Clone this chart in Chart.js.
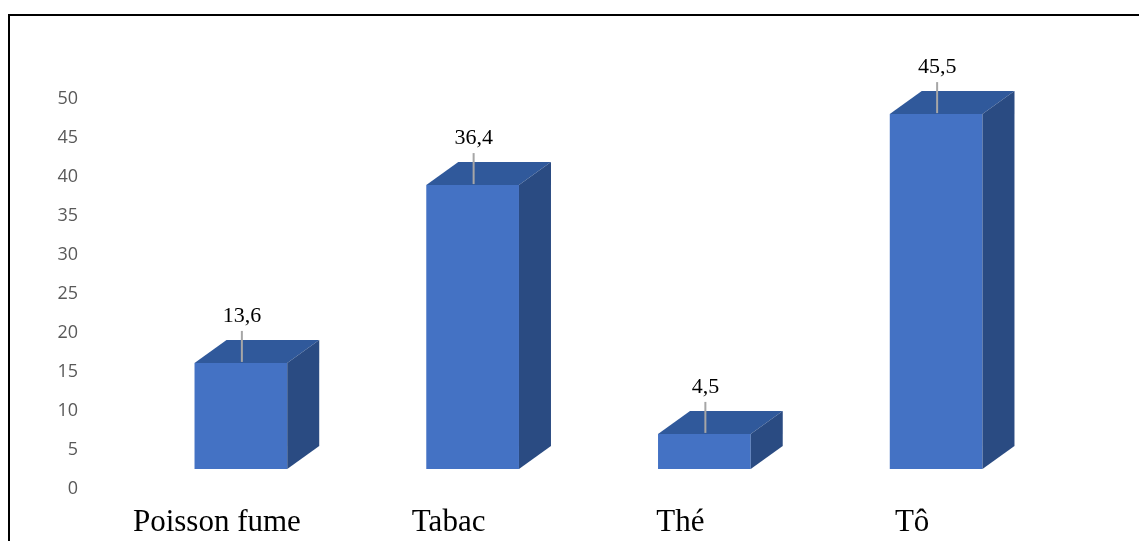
<!DOCTYPE html>
<html>
<head>
<meta charset="utf-8">
<script src="https://cdn.jsdelivr.net/npm/chart.js@4/dist/chart.umd.min.js"></script>
<style>
    html, body {
        margin: 0;
        padding: 0;
        background: #ffffff;
        overflow: hidden;
    }
    #wrap {
        position: relative;
        width: 1139px;
        height: 541px;
    }
    #frame {
        position: absolute;
        left: 8px;
        top: 14px;
        width: 1200px;
        height: 600px;
        border-left: 2px solid #000;
        border-top: 2px solid #000;
    }
    canvas {
        position: absolute;
        left: 0;
        top: 0;
    }
</style>
</head>
<body>
<div id="wrap">
    <div id="frame"></div>
    <canvas id="chart" width="1139" height="541"></canvas>
</div>
<script>
const categories = ["Poisson fume", "Tabac", "Thé", "Tô"];
const values = [13.6, 36.4, 4.5, 45.5];
const valueLabels = ["13,6", "36,4", "4,5", "45,5"];

const frontColor = "#4472C4";
const topColor = "#30599B";
const sideColor = "#2A4B82";

// depth of the fake 3D box
const depthX = 32;
const depthY = 23;

const boxPlugin = {
    id: "box3d",
    afterDatasetsDraw(chart) {
        const ctx = chart.ctx;
        const meta = chart.getDatasetMeta(0);

        meta.data.forEach((bar, i) => {
            const left = bar.x - bar.width / 2;
            const right = bar.x + bar.width / 2;
            const top = bar.y;
            const base = bar.base;

            ctx.save();

            // top face
            ctx.fillStyle = topColor;
            ctx.beginPath();
            ctx.moveTo(left, top);
            ctx.lineTo(left + depthX, top - depthY);
            ctx.lineTo(right + depthX, top - depthY);
            ctx.lineTo(right, top);
            ctx.closePath();
            ctx.fill();

            // side face
            ctx.fillStyle = sideColor;
            ctx.beginPath();
            ctx.moveTo(right, top);
            ctx.lineTo(right + depthX, top - depthY);
            ctx.lineTo(right + depthX, base - depthY);
            ctx.lineTo(right, base);
            ctx.closePath();
            ctx.fill();

            // leader line
            ctx.strokeStyle = "#A6A6A6";
            ctx.lineWidth = 2;
            ctx.beginPath();
            ctx.moveTo(bar.x + 1, top - 1);
            ctx.lineTo(bar.x + 1, top - 32);
            ctx.stroke();

            // value label
            ctx.fillStyle = "#000000";
            ctx.font = "22px 'Liberation Serif', 'Times New Roman', serif";
            ctx.textAlign = "center";
            ctx.textBaseline = "alphabetic";
            ctx.fillText(valueLabels[i], bar.x + 1, top - 41);

            ctx.restore();
        });
    }
};

new Chart(document.getElementById("chart"), {
    type: "bar",
    data: {
        labels: categories,
        datasets: [{
            data: values,
            backgroundColor: frontColor,
            borderWidth: 0,
            yAxisID: "yb",
            categoryPercentage: 1,
            barPercentage: 0.4,
            clip: false
        }]
    },
    options: {
        responsive: false,
        animation: false,
        layout: {
            padding: { top: 99, right: 87, bottom: 0, left: 0 }
        },
        plugins: {
            legend: { display: false },
            tooltip: { enabled: false }
        },
        scales: {
            x: {
                grid: { display: false, drawTicks: false },
                border: { display: false },
                ticks: {
                    color: "#000000",
                    font: { family: "'Liberation Serif', 'Times New Roman', serif", size: 31 },
                    padding: 15,
                    labelOffset: -24,
                    maxRotation: 0
                },
                afterFit(scale) {
                    scale.height = 52;
                    scale.paddingLeft = 0;
                    scale.paddingRight = 0;
                }
            },
            y: {
                min: 0,
                max: 50,
                grid: { display: false, drawTicks: false },
                border: { display: false },
                ticks: {
                    stepSize: 5,
                    color: "#595959",
                    font: { family: "'Open Sans', sans-serif", size: 18 },
                    padding: 47
                },
                afterFit(scale) {
                    scale.width = 125;
                    scale.paddingTop = 0;
                    scale.paddingBottom = 0;
                }
            },
            // hidden axis for the bars: the front of the boxes sits 20px above the zero line
            yb: {
                display: false,
                min: -2.564,
                max: 47.436
            }
        }
    },
    plugins: [boxPlugin]
});
</script>
</body>
</html>
